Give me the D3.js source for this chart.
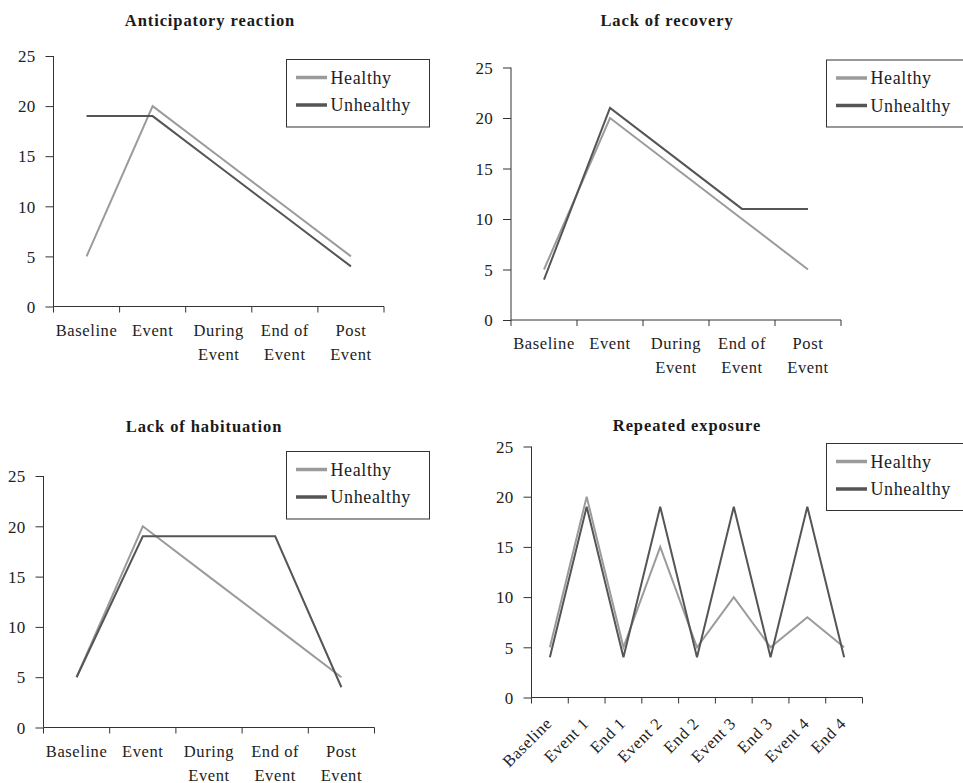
<!DOCTYPE html>
<html>
<head>
<meta charset="utf-8">
<script src="https://cdn.jsdelivr.net/npm/d3@7"></script>
<style>
  html, body { margin: 0; padding: 0; background: #fff; }
  svg { display: block; }
  text { font-family: "Liberation Serif", "Times New Roman", serif; fill: #222; }
</style>
</head>
<body>
<svg id="chart" width="963" height="783"></svg>
<script>
// ---- data ----
const seriesNames = ["Healthy", "Unhealthy"];
const yTicks = [0, 5, 10, 15, 20, 25];

const titles = ["Anticipatory reaction", "Lack of recovery", "Lack of habituation", "Repeated exposure"];

const categoriesFive = ["Baseline", "Event", "During\nEvent", "End of\nEvent", "Post\nEvent"];
const categoriesRepeated = ["Baseline", "Event 1", "End 1", "Event 2", "End 2", "Event 3", "End 3", "Event 4", "End 4"];

const anticipatoryHealthy   = [5, 20, 15, 10, 5];
const anticipatoryUnhealthy = [19, 19, 14, 9, 4];

const recoveryHealthy   = [5, 20, 15, 10, 5];
const recoveryUnhealthy = [4, 21, 16, 11, 11];

const habituationHealthy   = [5, 20, 15, 10, 5];
const habituationUnhealthy = [5, 19, 19, 19, 4];

const repeatedHealthy   = [5, 20, 5, 15, 5, 10, 5, 8, 5];
const repeatedUnhealthy = [4, 19, 4, 19, 4, 19, 4, 19, 4];

// ---- layout (positions only) ----
const panels = [
  { title: titles[0], cats: categoriesFive, data: [anticipatoryHealthy, anticipatoryUnhealthy],
    x0: 53.5, x1: 384, y0: 306.5, y25: 56, titleX: 210, titleY: 26,
    legend: { x: 286.5, y: 59.5, w: 143, h: 67.5 }, rotated: false },
  { title: titles[1], cats: categoriesFive, data: [recoveryHealthy, recoveryUnhealthy],
    x0: 511, x1: 841, y0: 320, y25: 67.5, titleX: 667, titleY: 26,
    legend: { x: 826.5, y: 60, w: 160, h: 67 }, rotated: false },
  { title: titles[2], cats: categoriesFive, data: [habituationHealthy, habituationUnhealthy],
    x0: 43.5, x1: 374.5, y0: 727.5, y25: 476, titleX: 204, titleY: 431.5,
    legend: { x: 286.5, y: 451.5, w: 143, h: 67.5 }, rotated: false },
  { title: titles[3], cats: categoriesRepeated, data: [repeatedHealthy, repeatedUnhealthy],
    x0: 531.5, x1: 862.5, y0: 697.5, y25: 446.5, titleX: 687, titleY: 430.5,
    legend: { x: 826.5, y: 443.5, w: 160, h: 67 }, rotated: true }
];

const colors = { Healthy: "#9b9b9b", Unhealthy: "#555555" };
const axisColor = "#333";
const serif = "'Liberation Serif', 'Times New Roman', serif";

const svg = d3.select("#chart");

panels.forEach(p => {
  const g = svg.append("g");

  const x = d3.scaleBand().domain(p.cats).range([p.x0, p.x1]).paddingInner(0).paddingOuter(0);
  const y = d3.scaleLinear().domain([0, 25]).range([p.y0, p.y25]);

  // title
  g.append("text")
    .attr("x", p.titleX).attr("y", p.titleY)
    .attr("text-anchor", "middle")
    .style("font-family", serif)
    .style("font-weight", "bold")
    .style("font-size", "16.5px")
    .style("letter-spacing", "0.9px")
    .style("fill", "#1a1a1a")
    .text(p.title);

  // y axis
  const yAxis = d3.axisLeft(y).tickValues(yTicks).tickSize(8).tickPadding(10).tickFormat(d3.format("d"));
  const ya = g.append("g").attr("transform", `translate(${p.x0},0)`).call(yAxis)
    .attr("font-family", null).attr("font-size", null);
  ya.select(".domain").attr("stroke", axisColor).attr("d", `M0,${p.y0}V${p.y25}`);
  ya.selectAll(".tick line").attr("stroke", axisColor);
  ya.selectAll(".tick text")
    .style("font-family", serif)
    .style("font-size", "17px")
    .style("letter-spacing", "0.3px")
    .style("fill", "#222")
    .attr("dy", "0.34em");

  // x axis: line + boundary ticks
  const xa = g.append("g");
  xa.append("line")
    .attr("x1", p.x0).attr("x2", p.x1)
    .attr("y1", p.y0).attr("y2", p.y0)
    .attr("stroke", axisColor);
  const bounds = p.cats.map(c => x(c)).concat([x(p.cats[p.cats.length - 1]) + x.bandwidth()]);
  xa.selectAll("line.bt").data(bounds).join("line").attr("class", "bt")
    .attr("x1", d => d).attr("x2", d => d)
    .attr("y1", p.y0).attr("y2", p.y0 + 6)
    .attr("stroke", axisColor);

  // x labels
  const cx = c => x(c) + x.bandwidth() / 2;
  if (!p.rotated) {
    const lbl = xa.selectAll("text.xl").data(p.cats).join("text").attr("class", "xl")
      .attr("text-anchor", "middle")
      .style("font-family", serif)
      .style("font-size", "16.5px")
      .style("letter-spacing", "0.6px");
    lbl.each(function(c) {
      const lines = c.split("\n");
      d3.select(this).selectAll("tspan").data(lines).join("tspan")
        .attr("x", cx(c))
        .attr("y", (d, i) => p.y0 + 29 + i * 24)
        .text(d => d);
    });
  } else {
    xa.selectAll("text.xl").data(p.cats).join("text").attr("class", "xl")
      .attr("text-anchor", "end")
      .style("font-family", serif)
      .style("font-size", "16.5px")
      .style("letter-spacing", "0.6px")
      .attr("transform", c => `translate(${cx(c) + 3},${p.y0 + 27}) rotate(-45)`)
      .text(c => c);
  }

  // lines
  const line = d3.line().x((d, i) => cx(p.cats[i])).y(d => y(d));
  seriesNames.forEach((s, si) => {
    g.append("path")
      .datum(p.data[si])
      .attr("d", line)
      .attr("fill", "none")
      .attr("stroke", colors[s])
      .attr("stroke-width", 2)
      .attr("stroke-linejoin", "miter");
  });

  // legend
  const L = p.legend;
  const lg = g.append("g");
  lg.append("rect")
    .attr("x", L.x).attr("y", L.y).attr("width", L.w).attr("height", L.h)
    .attr("fill", "#fff").attr("stroke", axisColor).attr("stroke-width", 1);
  seriesNames.forEach((s, si) => {
    const ly = L.y + 18 + si * 27.5;
    lg.append("line")
      .attr("x1", L.x + 9.5).attr("x2", L.x + 40.5)
      .attr("y1", ly).attr("y2", ly)
      .attr("stroke", colors[s]).attr("stroke-width", 3.5);
    lg.append("text")
      .attr("x", L.x + 44).attr("y", ly + 6)
      .style("font-family", serif)
      .style("font-size", "18px")
      .style("letter-spacing", "0.6px")
      .text(s);
  });
});
</script>
</body>
</html>
